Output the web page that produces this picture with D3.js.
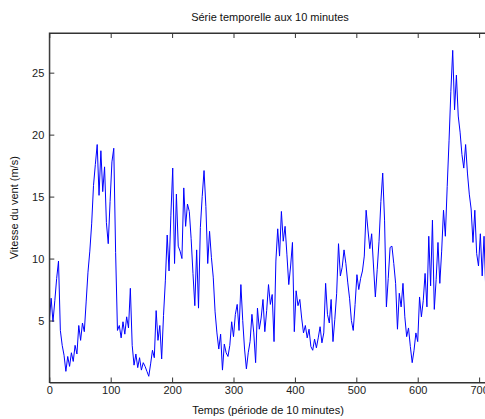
<!DOCTYPE html>
<html>
<head>
<meta charset="utf-8">
<script src="https://cdn.jsdelivr.net/npm/d3@7"></script>
<style>
  body { margin: 0; background: #fff; }
  text { font-family: "Liberation Sans", Arial, sans-serif; }
</style>
</head>
<body>
<div id="chart"></div>
<script>
var W = 485, H = 419;
var plotLeft = 49.3, plotRight = 491.4, plotTop = 33, plotBottom = 382.5;

var title = "Série temporelle aux 10 minutes";
var xLabel = "Temps (période de 10 minutes)";
var yLabel = "Vitesse du vent (m/s)";
var xTicks = [0, 100, 200, 300, 400, 500, 600, 700];
var yTicks = [5, 10, 15, 20, 25];

// one reading every 3 periods
var step = 3;
var speed = [
  5.0, 6.8, 4.9, 6.6, 8.4, 9.8, 4.2, 3.0, 2.2, 0.9,
  2.1, 1.3, 2.4, 1.7, 3.0, 2.3, 4.6, 3.4, 4.8, 4.1,
  6.5, 8.9, 10.6, 12.8, 15.9, 17.6, 19.2, 15.1, 18.7, 15.4,
  17.4, 12.9, 11.2, 14.6, 17.8, 18.9, 10.5, 4.2, 4.6, 3.6,
  4.9, 3.9, 5.3, 4.4, 7.6, 3.0, 1.4, 2.3, 1.2, 2.0,
  1.0, 1.6, 1.3, 0.9, 0.5, 1.5, 2.6, 2.0, 5.8, 3.4,
  4.6, 1.9, 5.4, 8.2, 11.9, 9.0, 13.5, 17.3, 9.6, 15.2,
  11.0, 10.6, 10.0, 15.7, 12.6, 14.4, 13.8, 11.6, 8.8, 6.2,
  10.7, 6.0, 12.5, 15.0, 17.1, 14.2, 9.6, 12.2, 10.1, 8.5,
  5.7, 4.0, 2.7, 3.9, 1.0, 3.1, 2.4, 2.1, 3.0, 4.9,
  3.7, 5.5, 6.3, 4.2, 7.9, 5.0, 2.7, 1.1, 2.4, 3.3,
  5.5, 4.0, 1.6, 6.0, 4.3, 5.2, 6.7, 4.1, 5.8, 7.9,
  6.3, 7.1, 3.3, 9.8, 12.4, 10.2, 13.8, 11.4, 12.6, 10.3,
  7.9, 9.4, 11.3, 4.1, 7.4, 6.2, 6.7, 5.2, 4.0, 4.6,
  3.6, 4.3, 2.9, 2.6, 3.5, 2.8, 3.6, 4.5, 3.2, 4.0,
  8.0, 5.5, 4.8, 6.7, 3.3, 5.1, 7.2, 11.2, 8.6, 9.3,
  10.7, 9.6, 8.1, 6.8, 5.0, 4.2, 6.3, 8.7, 7.5, 8.4,
  9.0, 10.2, 13.9, 12.3, 10.8, 12.0, 9.4, 6.9, 9.1, 11.4,
  14.6, 16.9, 13.1, 6.1, 8.4, 10.9, 11.0, 9.6, 8.0, 4.3,
  7.2, 6.1, 8.0, 5.3, 3.7, 4.4, 2.9, 1.6, 2.6, 4.0,
  3.3, 6.9, 5.3, 6.6, 8.8, 6.1, 11.8, 7.8, 13.1, 5.9,
  8.3, 11.3, 8.0, 10.6, 13.9, 11.8, 15.8, 19.5, 23.5, 26.8,
  22.0, 24.8, 21.5, 20.2, 18.4, 17.3, 19.2, 16.9, 15.2, 14.0,
  11.3, 13.9, 10.4, 9.4, 12.0, 8.6, 11.8, 7.2
];

var svg = d3.select("#chart").append("svg")
    .attr("width", W)
    .attr("height", H);

var x = d3.scaleLinear().domain([0, 720]).range([plotLeft, plotRight]);
var y = d3.scaleLinear().domain([0, 28.2]).range([plotBottom, plotTop]);

svg.append("clipPath").attr("id", "plot")
  .append("rect")
    .attr("x", plotLeft).attr("y", plotTop)
    .attr("width", plotRight - plotLeft).attr("height", plotBottom - plotTop);

var line = d3.line()
    .x(function(d, i) { return x(i * step); })
    .y(function(d) { return y(d); });

svg.append("path")
    .datum(speed)
    .attr("clip-path", "url(#plot)")
    .attr("d", line)
    .attr("fill", "none")
    .attr("stroke", "#0000ff")
    .attr("stroke-width", 1);

// box
svg.append("rect")
    .attr("x", plotLeft).attr("y", plotTop)
    .attr("width", plotRight - plotLeft).attr("height", plotBottom - plotTop)
    .attr("fill", "none")
    .attr("stroke", "#333")
    .attr("stroke-width", 1);

var xAxis = svg.append("g")
    .attr("transform", "translate(0," + plotBottom + ")")
    .call(d3.axisBottom(x).tickValues(xTicks).tickSize(-5).tickPadding(4).tickSizeOuter(0));

var xTop = svg.append("g")
    .attr("transform", "translate(0," + plotTop + ")")
    .call(d3.axisTop(x).tickValues(xTicks).tickSize(-5).tickFormat("").tickSizeOuter(0));

var yAxis = svg.append("g")
    .attr("transform", "translate(" + plotLeft + ",0)")
    .call(d3.axisLeft(y).tickValues(yTicks).tickSize(-5).tickPadding(5).tickSizeOuter(0));

[xAxis, xTop, yAxis].forEach(function(g) {
  g.select(".domain").attr("stroke", "#333");
  g.selectAll(".tick line").attr("stroke", "#333");
  g.selectAll(".tick text").attr("fill", "#222").style("font-size", "11px");
});

svg.append("text")
    .attr("x", 270).attr("y", 21)
    .attr("text-anchor", "middle")
    .attr("fill", "#111")
    .style("font-size", "11px")
    .text(title);

svg.append("text")
    .attr("x", 268).attr("y", 414)
    .attr("text-anchor", "middle")
    .attr("fill", "#111")
    .style("font-size", "11px")
    .text(xLabel);

svg.append("text")
    .attr("transform", "translate(18," + ((plotTop + plotBottom) / 2) + ") rotate(-90)")
    .attr("text-anchor", "middle")
    .attr("fill", "#111")
    .style("font-size", "11px")
    .text(yLabel);
</script>
</body>
</html>
